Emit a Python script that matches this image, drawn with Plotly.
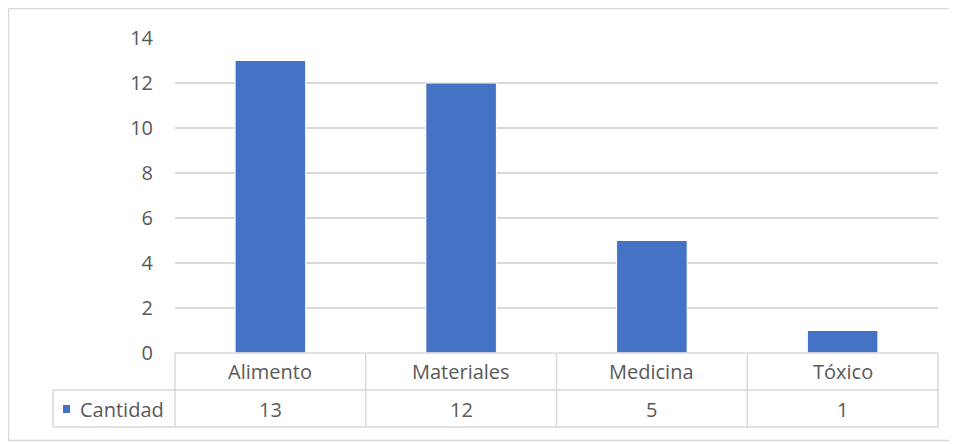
import plotly.graph_objects as go

categories = ["Alimento", "Materiales", "Medicina", "Tóxico"]
cantidad = [13, 12, 5, 1]
series_name = "Cantidad"
y_ticks = [0, 2, 4, 6, 8, 10, 12, 14]

# page offset (default body margin)
O = 8
W, H = 957 - O, 444 - O
L, R, T, B = 175 - O, 938 - O, 38 - O, 353 - O
FONT = "Open Sans"
FS = 20
TXT = "#595959"
GRID = "#d9d9d9"
BLUE = "#4472C4"

def px(x):
    return (x - O - L) / (R - L)

def py(y):
    return (B - (y - O)) / (B - T)

fig = go.Figure()
fig.add_trace(go.Bar(x=categories, y=cantidad, name=series_name,
                     marker=dict(color=BLUE, line=dict(color="white", width=1)),
                     showlegend=False))

shapes = []
def line(x0, y0, x1, y1, color=GRID, width=1.5):
    shapes.append(dict(type="line", xref="paper", yref="paper",
                       x0=px(x0), y0=py(y0), x1=px(x1), y1=py(y1),
                       line=dict(color=color, width=width), layer="above"))

# outer chart border (screen coords)
line(8.5, 8.5, 970, 8.5)
line(8.5, 8.5, 8.5, 440.5)
line(8.5, 440.5, 970, 440.5)

# data table (screen coords)
n = len(categories)
Ls, Rs = 175, 938
cw = (Rs - Ls) / n
row1, row2, row3 = 353, 390, 427
line(Ls, row1, Rs, row1)
line(53, row2, Rs, row2)
line(53, row3, Rs, row3)
line(53, row2, 53, row3)
for i in range(n + 1):
    x = Ls + i * cw
    line(x, row1, x, row3)

# legend key
shapes.append(dict(type="rect", xref="paper", yref="paper",
                   x0=px(63), x1=px(70), y0=py(405), y1=py(413),
                   fillcolor=BLUE, line=dict(width=0)))

annotations = []
for c, v in zip(categories, cantidad):
    annotations.append(dict(x=c, xref="x", y=py(371.5), yref="paper", text=c,
                            xanchor="center", yanchor="middle",
                            showarrow=False, font=dict(family=FONT, size=FS, color=TXT)))
    annotations.append(dict(x=c, xref="x", y=py(409), yref="paper", text=str(v),
                            xanchor="center", yanchor="middle",
                            showarrow=False, font=dict(family=FONT, size=FS, color=TXT)))
annotations.append(dict(x=px(78), xref="paper", y=py(409), yref="paper", text=series_name,
                        xanchor="left", yanchor="middle", showarrow=False,
                        font=dict(family=FONT, size=FS, color=TXT)))

fig.update_layout(
    width=W, height=H,
    margin=dict(l=L, r=W - R, t=T, b=H - B, pad=0),
    paper_bgcolor="white", plot_bgcolor="white",
    bargap=0.63,
    font=dict(family=FONT, size=FS, color=TXT),
    xaxis=dict(showticklabels=False, showgrid=False, zeroline=False, showline=False,
               fixedrange=True),
    yaxis=dict(range=[0, 14], tickvals=y_ticks, showgrid=True, gridcolor=GRID, gridwidth=1.5,
               zeroline=False, showline=False, ticks="", ticklabelstandoff=21,
               tickfont=dict(family=FONT, size=FS, color=TXT)),
    shapes=shapes, annotations=annotations,
)

fig.write_html("out.html")
